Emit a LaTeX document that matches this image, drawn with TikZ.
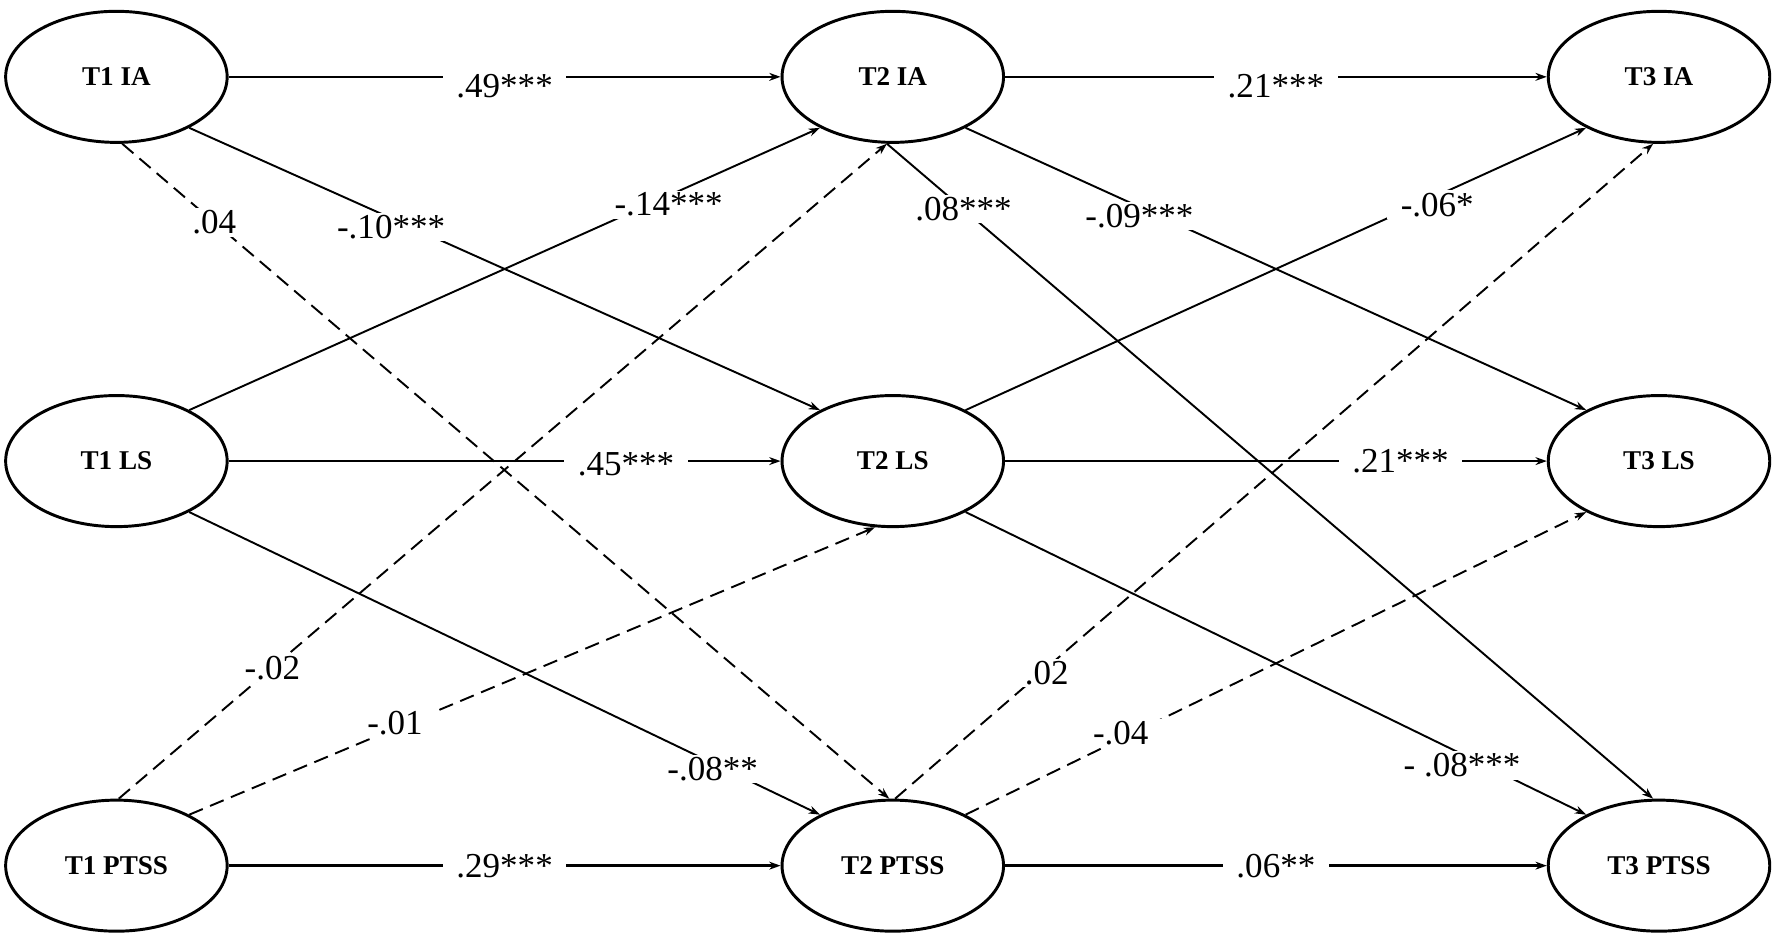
\documentclass[tikz,border=0pt]{standalone}
\usepackage{fontspec}
\setmainfont{Liberation Serif}
\usetikzlibrary{shapes.geometric,arrows.meta}
\begin{document}
\begin{tikzpicture}[x=1pt,y=-1pt,
  var/.style={ellipse,draw,line width=2.6pt,minimum width=196pt,minimum height=116pt,inner sep=0pt,font=\fontsize{24}{24}\selectfont\bfseries},
  pth/.style={line width=1.7pt,-{Stealth[length=10pt,width=7pt]}},
  hp/.style={pth,line width=2.3pt},
  dsh/.style={pth,dash pattern=on 13pt off 7pt},
  lab/.style={fill=white,inner xsep=12pt,inner ysep=2pt,font=\fontsize{31}{31}\selectfont}]
\useasboundingbox (0,0) rectangle (1568,826);
\node[var] (a1) at (103,68) {T1 IA};
\node[var] (a2) at (790,68) {T2 IA};
\node[var] (a3) at (1468,68) {T3 IA};
\node[var] (l1) at (103,408) {T1 LS};
\node[var] (l2) at (790,408) {T2 LS};
\node[var] (l3) at (1468,408) {T3 LS};
\node[var] (p1) at (103,766) {T1 PTSS};
\node[var] (p2) at (790,766) {T2 PTSS};
\node[var] (p3) at (1468,766) {T3 PTSS};
% wave 1 -> 2
\draw[hp] (a1.east) -- (a2.west) node[lab,midway,yshift=-8pt] {.49***};
\draw[pth] (a1.-35) -- (l2.145) node[lab,pos=0.32,yshift=-8pt] {-.10***};
\draw[dsh] (a1.-85) -- (p2.93) node[lab,pos=0.12] {.04};
\draw[pth] (l1.35) -- (a2.-145) node[lab,pos=0.76,yshift=-8pt] {-.14***};
\draw[hp] (l1.east) -- (l2.west) node[lab,pos=0.72,yshift=-3pt] {.45***};
\draw[pth] (l1.-35) -- (p2.145) node[lab,pos=0.83,yshift=-5pt] {-.08**};
\draw[dsh] (p1.88) -- (a2.-95) node[lab,pos=0.2] {-.02};
\draw[dsh] (p1.35) -- (l2.-105) node[lab,pos=0.3,yshift=5pt] {-.01};
\draw[hp] (p1.east) -- (p2.west) node[lab,midway] {.29***};
% wave 2 -> 3
\draw[hp] (a2.east) -- (a3.west) node[lab,midway,yshift=-8pt] {.21***};
\draw[pth] (a2.-35) -- (l3.145) node[lab,pos=0.28,yshift=-8pt] {-.09***};
\draw[pth] (a2.-95) -- (p3.95) node[lab,pos=0.1] {.08***};
\draw[pth] (l2.35) -- (a3.-145) node[lab,pos=0.76,yshift=-8pt] {-.06*};
\draw[hp] (l2.east) -- (l3.west) node[lab,pos=0.73] {.21***};
\draw[pth] (l2.-35) -- (p3.145) node[lab,pos=0.8,yshift=-10pt] {- .08***};
\draw[dsh] (p2.88) -- (a3.-95) node[lab,pos=0.2,yshift=-5pt] {.02};
\draw[dsh] (p2.35) -- (l3.-145) node[lab,pos=0.25,yshift=5pt] {-.04};
\draw[hp] (p2.east) -- (p3.west) node[lab,midway] {.06**};
\end{tikzpicture}
\end{document}
